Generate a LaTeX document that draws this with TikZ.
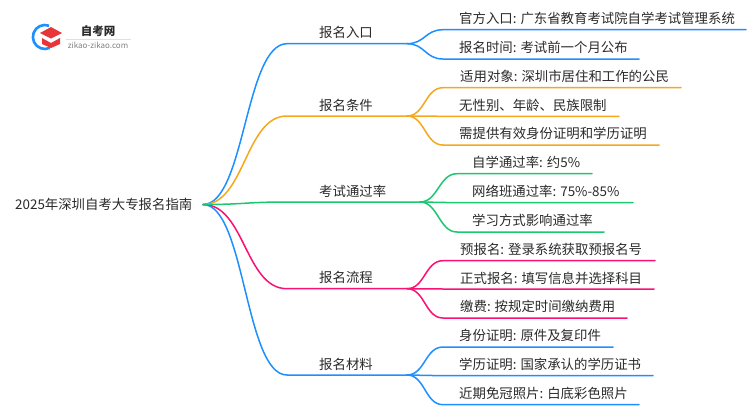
\documentclass[tikz,border=0pt]{standalone}
\usepackage{fontspec}
\setmainfont{Noto Sans CJK SC}
\definecolor{lineblue}{HTML}{1E8FFF}
\definecolor{lineorange}{HTML}{F5A81C}
\definecolor{linegreen}{HTML}{19C86F}
\definecolor{linepink}{HTML}{FA1174}
\definecolor{inkgray}{HTML}{2A2A2A}
\definecolor{hatred}{HTML}{E8353A}
\tikzset{
  label/.style={anchor=west, inner sep=0pt, text=inkgray, font=\fontsize{13.4pt}{16pt}\selectfont},
  branch/.style={line width=1.5pt, line cap=round},
}
\begin{document}
\begin{tikzpicture}[x=1pt, y=-1pt]
  \useasboundingbox (0,0) rectangle (750,410);
  % logo
  \draw[lineblue, line width=2.6pt] (49,25.7) arc[start angle=290, end angle=65, radius=12];
  \fill[hatred] (40,33) -- (51,27) -- (62,33) -- (51,38.5) -- cycle;
  \fill[hatred] (42,38) -- (51,43) -- (60,38) -- (60,44) -- (51,48) -- (42,44) -- cycle;
  \node[inner sep=0pt, text=inkgray, font=\fontsize{11.5pt}{14pt}\selectfont\bfseries] (logoname) at (98,31) {自考网};
  \node[inner sep=0pt, text=gray, font=\fontsize{8pt}{10pt}\selectfont] (logosite) at (98,45) {zikao-zikao.com};
  \coordinate (rulea) at (66,39); \coordinate (ruleb) at (131,39);
  \draw[gray!25, line width=0.6pt] (rulea) -- (ruleb);
  % root
  \node[label] (guide) at (15,204.5) {2025年深圳自考大专报名指南};
  \coordinate (hub) at (203,204.5);
  % first level
  \coordinate (entrys) at (287,43.7); \coordinate (entrye) at (407,43.7);
  \coordinate (conds) at (287,116); \coordinate (conde) at (407,116);
  \coordinate (rates) at (287,202); \coordinate (ratee) at (420,202);
  \coordinate (flows) at (287,288.7); \coordinate (flowe) at (407,288.7);
  \coordinate (docss) at (287,375); \coordinate (docse) at (407,375);
  \draw[branch, lineblue] (hub) .. controls +(42,0) and +(-42,0) .. (entrys) -- (entrye);
  \draw[branch, lineorange] (hub) .. controls +(42,0) and +(-42,0) .. (conds) -- (conde);
  \draw[branch, linepink] (hub) .. controls +(42,0) and +(-42,0) .. (flows) -- (flowe);
  \draw[branch, lineblue] (hub) .. controls +(42,0) and +(-42,0) .. (docss) -- (docse);
  \draw[branch, linegreen] (hub) .. controls +(42,0) and +(-42,0) .. (rates) -- (ratee);
  \node[label] (entry) at (319,32.7) {报名入口};
  \node[label] (cond) at (319,105) {报名条件};
  \node[label] (rate) at (319,191) {考试通过率};
  \node[label] (flow) at (319,277.7) {报名流程};
  \node[label] (docs) at (319,364) {报名材料};
  % blue leaves
  \coordinate (offas) at (443,29.7); \coordinate (offae) at (746,29.7);
  \coordinate (timas) at (443,59); \coordinate (timae) at (639,59);
  \draw[branch, lineblue] (entrye) .. controls +(18,0) and +(-18,0) .. (offas) -- (offae);
  \draw[branch, lineblue] (entrye) .. controls +(18,0) and +(-18,0) .. (timas) -- (timae);
  \node[label] (offa) at (459,18.5) {官方入口: 广东省教育考试院自学考试管理系统};
  \node[label] (tima) at (459,47.5) {报名时间: 考试前一个月公布};
  % orange leaves
  \coordinate (whos) at (443,87.7); \coordinate (whoe) at (681,87.7);
  \coordinate (nons) at (443,116.3); \coordinate (none) at (619,116.3);
  \coordinate (ids) at (443,145); \coordinate (ide) at (659,145);
  \draw[branch, lineorange] (conde) .. controls +(18,0) and +(-18,0) .. (whos) -- (whoe);
  \draw[branch, lineorange] (conde) -- (nons) -- (none);
  \draw[branch, lineorange] (conde) .. controls +(18,0) and +(-18,0) .. (ids) -- (ide);
  \node[label] (who) at (460,76.5) {适用对象: 深圳市居住和工作的公民};
  \node[label] (non) at (459,105) {无性别、年龄、民族限制};
  \node[label] (id) at (459,133.5) {需提供有效身份证明和学历证明};
  % green leaves
  \coordinate (selfs) at (457,173.7); \coordinate (selfe) at (592,173.7);
  \coordinate (nets) at (457,202.7); \coordinate (nete) at (633,202.7);
  \coordinate (ways) at (457,232); \coordinate (waye) at (604,232);
  \draw[branch, linegreen] (ratee) .. controls +(18,0) and +(-18,0) .. (selfs) -- (selfe);
  \draw[branch, linegreen] (ratee) -- (nets) -- (nete);
  \draw[branch, linegreen] (ratee) .. controls +(18,0) and +(-18,0) .. (ways) -- (waye);
  \node[label] (self) at (472,162.5) {自学通过率: 约5\%};
  \node[label] (net) at (472,191) {网络班通过率: 75\%-85\%};
  \node[label] (way) at (472,220) {学习方式影响通过率};
  % pink leaves
  \coordinate (pres) at (443,260.7); \coordinate (pree) at (655,260.7);
  \coordinate (regs) at (443,289); \coordinate (rege) at (654,289);
  \coordinate (pays) at (443,318); \coordinate (paye) at (627,318);
  \draw[branch, linepink] (flowe) .. controls +(18,0) and +(-18,0) .. (pres) -- (pree);
  \draw[branch, linepink] (flowe) -- (regs) -- (rege);
  \draw[branch, linepink] (flowe) .. controls +(18,0) and +(-18,0) .. (pays) -- (paye);
  \node[label] (pre) at (460,249.5) {预报名: 登录系统获取预报名号};
  \node[label] (reg) at (460,278) {正式报名: 填写信息并选择科目};
  \node[label] (pay) at (460,306.5) {缴费: 按规定时间缴纳费用};
  % last blue leaves
  \coordinate (cards) at (443,347); \coordinate (carde) at (613,347);
  \coordinate (dipls) at (443,375.7); \coordinate (diple) at (653,375.7);
  \coordinate (phos) at (443,404.7); \coordinate (phoe) at (639,404.7);
  \draw[branch, lineblue] (docse) .. controls +(18,0) and +(-18,0) .. (cards) -- (carde);
  \draw[branch, lineblue] (docse) -- (dipls) -- (diple);
  \draw[branch, lineblue] (docse) .. controls +(18,0) and +(-18,0) .. (phos) -- (phoe);
  \node[label] (card) at (459,335.5) {身份证明: 原件及复印件};
  \node[label] (dipl) at (459,364) {学历证明: 国家承认的学历证书};
  \node[label] (pho) at (459,393) {近期免冠照片: 白底彩色照片};
\end{tikzpicture}
\end{document}
